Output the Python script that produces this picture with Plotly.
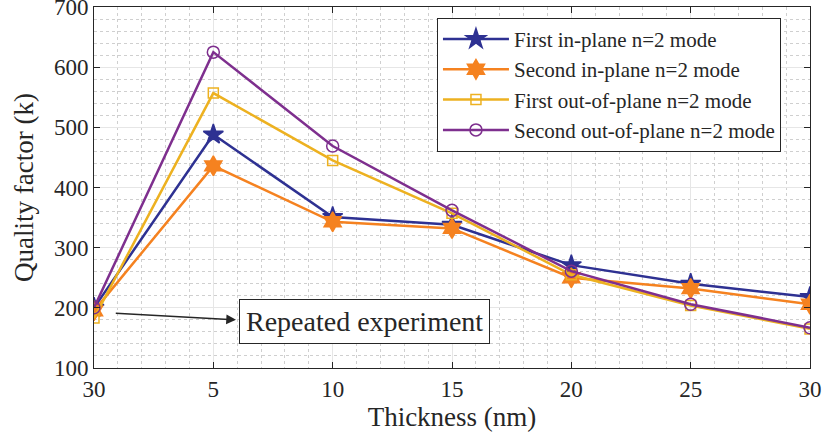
import plotly.graph_objects as go

categories = ["30", "5", "10", "15", "20", "25", "30"]
first_in = [200, 488, 351, 338, 271, 240, 218]
second_in = [195, 436, 343, 332, 250, 232, 206]
first_out = [183, 557, 445, 357, 255, 204, 165]
second_out = [200, 625, 469, 362, 261, 206, 167]

x = list(range(len(categories)))

series = [
    ("First in-plane n=2 mode", first_in, "#2E3192", "star", 15),
    ("Second in-plane n=2 mode", second_in, "#F58220", "hexagram", 15),
    ("First out-of-plane n=2 mode", first_out, "#EDB120", "square-open", 10),
    ("Second out-of-plane n=2 mode", second_out, "#7E2F8E", "circle-open", 12),
]

fig = go.Figure()
for name, vals, color, sym, size in series:
    fig.add_trace(go.Scatter(
        x=x, y=vals, name=name, mode="lines+markers",
        line=dict(color=color, width=2.5),
        marker=dict(symbol=sym, size=size, color=color,
                    line=dict(color=color, width=1.5)),
    ))

font = "Liberation Serif, Times New Roman, serif"
axis_common = dict(
    showline=True, linecolor="#262626", linewidth=1, mirror="ticks",
    ticks="inside", ticklen=6, tickcolor="#262626",
    showgrid=True, gridcolor="#E6E6E6", gridwidth=1,
    zeroline=False, automargin=False,
    tickfont=dict(family=font, size=23, color="#262626"),
)

fig.update_xaxes(
    **axis_common,
    range=[0, 6], tickmode="array", tickvals=x, ticktext=categories,
    minor=dict(dtick=0.2, tick0=0, showgrid=True, gridcolor="#CFCFCF",
               griddash="dot", gridwidth=1, ticks=""),
    title=dict(text="Thickness (nm)", font=dict(family=font, size=27, color="#262626"), standoff=0),
)
fig.update_yaxes(
    **axis_common,
    range=[100, 700], dtick=100, ticklabeloverflow="allow",
    minor=dict(dtick=20, showgrid=True, gridcolor="#CFCFCF",
               griddash="dot", gridwidth=1, ticks=""),
    title=dict(text="Quality factor (k)", font=dict(family=font, size=27, color="#262626"), standoff=12),
)

# Text box
fig.add_annotation(
    x=1.215, y=177, xref="x", yref="y",
    text="Repeated experiment", showarrow=False,
    font=dict(family=font, size=28, color="#262626"),
    bgcolor="white", bordercolor="#262626", borderwidth=1, borderpad=6,
    xanchor="left", yanchor="middle",
)
# Arrow
fig.add_annotation(
    x=1.19, y=180, xref="x", yref="y",
    ax=0.17, ay=191, axref="x", ayref="y",
    text="", showarrow=True,
    arrowhead=2, arrowsize=1.3, arrowwidth=1.5, arrowcolor="#262626",
)

fig.update_layout(
    width=827, height=435,
    margin=dict(l=94, r=17, t=7, b=67),
    paper_bgcolor="white", plot_bgcolor="white",
    font=dict(family=font, color="#262626"),
    legend=dict(
        x=0.479, y=0.97, xanchor="left", yanchor="top",
        bgcolor="white", bordercolor="#262626", borderwidth=1,
        font=dict(family=font, size=21, color="#262626"),
        tracegroupgap=0, itemwidth=66,
    ),
)

fig.write_html("out.html")
